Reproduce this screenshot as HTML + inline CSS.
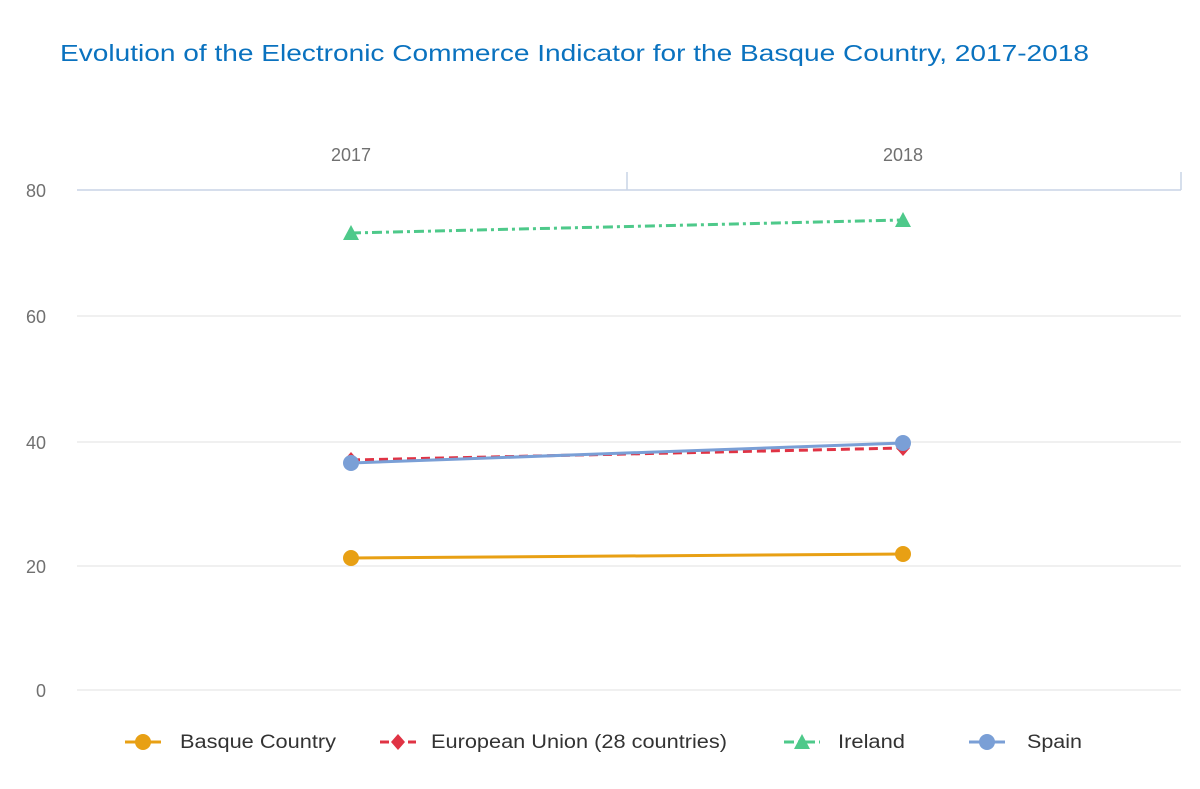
<!DOCTYPE html>
<html><head><meta charset="utf-8"><style>
html,body{margin:0;padding:0;background:#fff;width:1200px;height:789px;overflow:hidden}
svg{display:block}
text{font-family:"Liberation Sans",sans-serif}
</style></head><body>
<svg width="1200" height="789" viewBox="0 0 1200 789">
<text x="60" y="61" font-size="23" fill="#0a72bf" textLength="1029" lengthAdjust="spacingAndGlyphs">Evolution of the Electronic Commerce Indicator for the Basque Country, 2017-2018</text>
<g stroke="#e0e0e0" stroke-width="1">
<line x1="77" y1="316" x2="1181" y2="316"/>
<line x1="77" y1="442" x2="1181" y2="442"/>
<line x1="77" y1="566" x2="1181" y2="566"/>
<line x1="77" y1="690" x2="1181" y2="690"/>
</g>
<g stroke="#c8d4e6" stroke-width="1.5">
<line x1="77" y1="190" x2="1181" y2="190"/>
<line x1="627" y1="172" x2="627" y2="190"/>
<line x1="1181" y1="172" x2="1181" y2="190"/>
</g>
<g font-size="18" fill="#707070">
<text x="351" y="161" text-anchor="middle">2017</text>
<text x="903" y="161" text-anchor="middle">2018</text>
<text x="46" y="197" text-anchor="end">80</text>
<text x="46" y="323" text-anchor="end">60</text>
<text x="46" y="449" text-anchor="end">40</text>
<text x="46" y="573" text-anchor="end">20</text>
<text x="46" y="697" text-anchor="end">0</text>
</g>
<line x1="351" y1="233" x2="903" y2="220" stroke="#4ec98a" stroke-width="3" stroke-dasharray="10,4,3,4"/>
<polygon points="351,225 359,240 343,240" fill="#4ec98a"/>
<polygon points="903,212 911,227 895,227" fill="#4ec98a"/>
<line x1="351" y1="558" x2="903" y2="554" stroke="#e8a014" stroke-width="3"/>
<circle cx="351" cy="558" r="8" fill="#e8a014"/>
<circle cx="903" cy="554" r="8" fill="#e8a014"/>
<line x1="351" y1="460" x2="903" y2="448" stroke="#e03344" stroke-width="3" stroke-dasharray="9,5"/>
<polygon points="351,452 358,460 351,468 344,460" fill="#e03344"/>
<polygon points="903,440 910,448 903,456 896,448" fill="#e03344"/>
<line x1="351" y1="463" x2="903" y2="443" stroke="#7a9fd6" stroke-width="3"/>
<circle cx="351" cy="463" r="8" fill="#7a9fd6"/>
<circle cx="903" cy="443" r="8" fill="#7a9fd6"/>
<g font-size="19" fill="#333">
<line x1="125" y1="742" x2="161" y2="742" stroke="#e8a014" stroke-width="3"/><circle cx="143" cy="742" r="8" fill="#e8a014"/>
<text x="180" y="748" textLength="156" lengthAdjust="spacingAndGlyphs">Basque Country</text>
<line x1="380" y1="742" x2="416" y2="742" stroke="#e03344" stroke-width="3" stroke-dasharray="9,5"/><polygon points="398,734 405,742 398,750 391,742" fill="#e03344"/>
<text x="431" y="748" textLength="296" lengthAdjust="spacingAndGlyphs">European Union (28 countries)</text>
<line x1="784" y1="742" x2="820" y2="742" stroke="#4ec98a" stroke-width="3" stroke-dasharray="10,4,3,4"/><polygon points="802,734 810,749 794,749" fill="#4ec98a"/>
<text x="838" y="748" textLength="67" lengthAdjust="spacingAndGlyphs">Ireland</text>
<line x1="969" y1="742" x2="1005" y2="742" stroke="#7a9fd6" stroke-width="3"/><circle cx="987" cy="742" r="8" fill="#7a9fd6"/>
<text x="1027" y="748" textLength="55" lengthAdjust="spacingAndGlyphs">Spain</text>
</g>
</svg>
</body></html>
